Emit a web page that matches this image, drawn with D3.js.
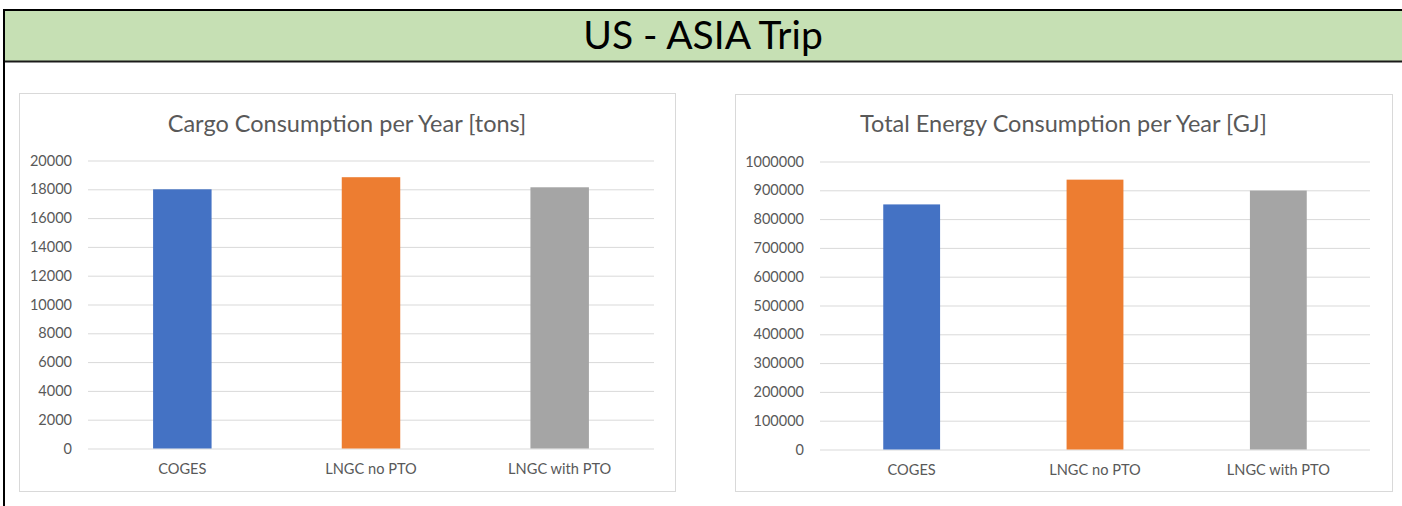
<!DOCTYPE html>
<html>
<head>
<meta charset="utf-8">
<script src="https://cdn.jsdelivr.net/npm/d3@7"></script>
<style>
  html, body { margin: 0; padding: 0; background: #fff; }
  svg { display: block; font-family: Lato, "Open Sans", sans-serif; }
</style>
</head>
<body>
<svg id="chart" width="1402" height="506"></svg>
<script>
// Categories and series values
const categories = ["COGES", "LNGC no PTO", "LNGC with PTO"];
const cargoTons = [18000, 18840, 18140];
const energyGJ = [851000, 937000, 899000];
const cargoTicks = [0, 2000, 4000, 6000, 8000, 10000, 12000, 14000, 16000, 18000, 20000];
const energyTicks = [0, 100000, 200000, 300000, 400000, 500000, 600000, 700000, 800000, 900000, 1000000];
const barColors = ["#4472C4", "#ED7D31", "#A5A5A5"];
const pageTitle = "US - ASIA Trip";
const cargoTitle = "Cargo Consumption per Year [tons]";
const energyTitle = "Total Energy Consumption per Year [GJ]";

const svg = d3.select("#chart");

// Header band with heavy frame
svg.append("rect")
  .attr("x", 4).attr("y", 10).attr("width", 1410).attr("height", 51)
  .attr("fill", "#C6E0B4");
svg.append("line").attr("x1", 4).attr("x2", 1402).attr("y1", 10).attr("y2", 10)
  .attr("stroke", "#000").attr("stroke-width", 2);
svg.append("line").attr("x1", 4).attr("x2", 1402).attr("y1", 61.5).attr("y2", 61.5)
  .attr("stroke", "#1a1a1a").attr("stroke-width", 2);
svg.append("line").attr("x1", 4).attr("x2", 4).attr("y1", 9).attr("y2", 506)
  .attr("stroke", "#000").attr("stroke-width", 2);
svg.append("text")
  .attr("x", 703).attr("y", 49)
  .attr("text-anchor", "middle")
  .attr("font-size", 39)
  .attr("fill", "#000")
  .text(pageTitle);

function drawPanel(opts) {
  const g = svg.append("g");
  // chart area frame
  g.append("rect")
    .attr("x", opts.box[0] + 0.5).attr("y", opts.box[1] + 0.5)
    .attr("width", opts.box[2] - opts.box[0]).attr("height", opts.box[3] - opts.box[1])
    .attr("fill", "#fff").attr("stroke", "#D9D9D9").attr("stroke-width", 1);

  g.append("text")
    .attr("x", (opts.box[0] + opts.box[2]) / 2).attr("y", 132)
    .attr("text-anchor", "middle")
    .attr("font-size", 23.5)
    .attr("fill", "#595959")
    .text(opts.title);

  const x = d3.scaleBand()
    .domain(categories)
    .range([opts.plot[0], opts.plot[1]])
    .paddingInner(0.69)
    .paddingOuter(0.345);
  const y = d3.scaleLinear()
    .domain([0, opts.ticks[opts.ticks.length - 1]])
    .range([opts.plot[3], opts.plot[2]]);

  // gridlines + value labels
  const yAxis = d3.axisLeft(y)
    .tickValues(opts.ticks)
    .tickFormat(d3.format("d"))
    .tickSize(-(opts.plot[1] - opts.plot[0]))
    .tickPadding(16);
  const ya = g.append("g")
    .attr("transform", `translate(${opts.plot[0]},0)`)
    .call(yAxis);
  ya.select(".domain").remove();
  ya.selectAll(".tick line").attr("stroke", "#D9D9D9").attr("stroke-width", 1);
  ya.selectAll(".tick text")
    .attr("fill", "#595959")
    .attr("font-size", 14.5)
    .attr("font-family", "Lato, sans-serif");

  // bars
  g.selectAll("rect.bar")
    .data(opts.values)
    .join("rect")
    .attr("class", "bar")
    .attr("x", (d, i) => x(categories[i]))
    .attr("y", d => y(d))
    .attr("width", x.bandwidth())
    .attr("height", d => y(0) - y(d))
    .attr("fill", (d, i) => barColors[i]);

  // category labels
  const xAxis = d3.axisBottom(x).tickSize(0).tickPadding(15);
  const xa = g.append("g")
    .attr("transform", `translate(0,${opts.plot[3]})`)
    .call(xAxis);
  xa.select(".domain").remove();
  xa.selectAll(".tick text")
    .attr("fill", "#595959")
    .attr("font-size", 14.6)
    .attr("font-family", "Lato, sans-serif");
}

drawPanel({
  box: [19, 93, 675, 491],
  plot: [88, 654, 160.5, 448.5],
  title: cargoTitle,
  values: cargoTons,
  ticks: cargoTicks
});

drawPanel({
  box: [735, 94, 1392, 491],
  plot: [820, 1370, 161.5, 449.5],
  title: energyTitle,
  values: energyGJ,
  ticks: energyTicks
});
</script>
</body>
</html>
